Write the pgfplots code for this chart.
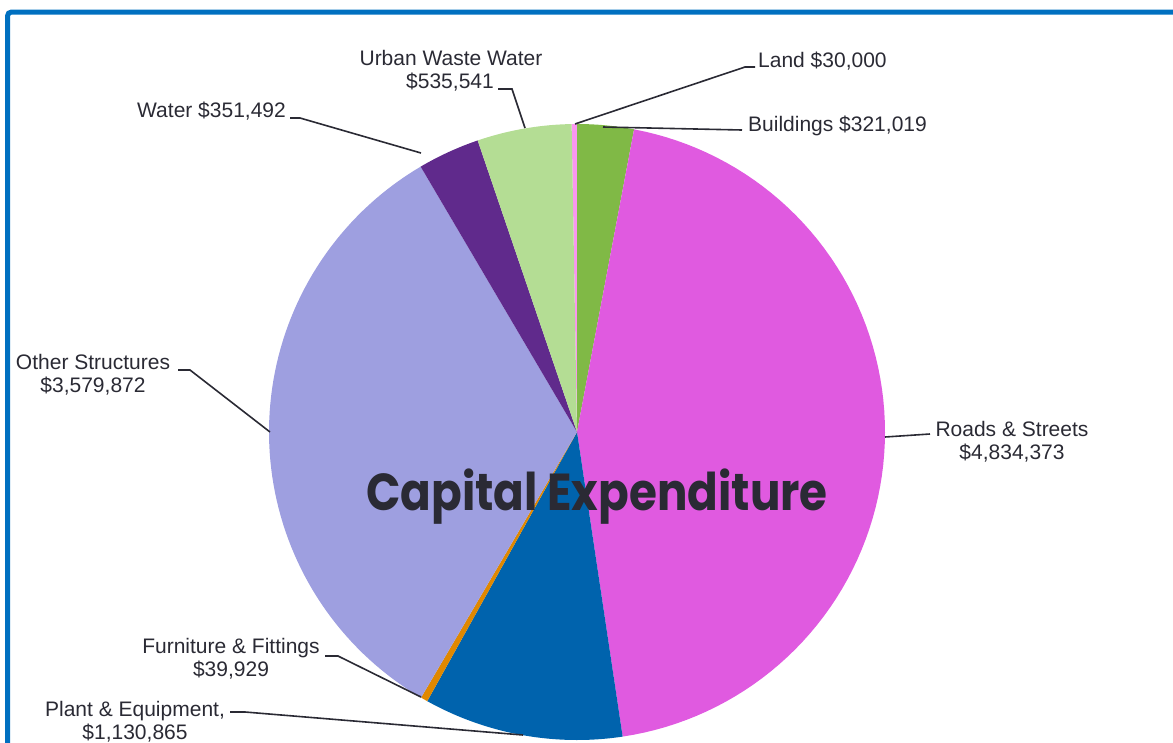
\documentclass[border=0pt]{standalone}
\usepackage{fontspec}
\setmainfont{Liberation Sans}
\newfontfamily\titlefont{Poppins}[FakeStretch=0.87]
\usepackage{pgfplots}
\usepackage{pgfplotstable}
\pgfplotsset{compat=1.18}

\definecolor{cLand}{RGB}{250,150,240}
\definecolor{cBuild}{RGB}{128,185,70}
\definecolor{cRoads}{RGB}{224,90,224}
\definecolor{cPlant}{RGB}{0,99,173}
\definecolor{cFurn}{RGB}{224,136,0}
\definecolor{cOther}{RGB}{158,159,224}
\definecolor{cWater}{RGB}{96,42,140}
\definecolor{cUrban}{RGB}{180,221,148}
\definecolor{txt}{RGB}{42,42,52}
\definecolor{frameblue}{RGB}{0,112,192}

% capital expenditure by asset class, clockwise from 12 o'clock
\pgfplotstableread{
name value
Land 30000
Buildings 321019
Roads 4834373
Plant 1130865
Furniture 39929
Other 3579872
Water 351492
Urban 535541
}\capex

% total and cumulative angles (degrees, clockwise from the start angle)
\def\startangle{91}
\edef\total{0}
\pgfplotsforeachungrouped \i in {0,...,7}{%
  \pgfplotstablegetelem{\i}{value}\of\capex
  \edef\total{\fpeval{\total+\pgfplotsretval}}}
\edef\cur{\startangle}
\expandafter\edef\csname ang0\endcsname{\startangle}
\pgfplotsforeachungrouped \i in {0,...,7}{%
  \pgfplotstablegetelem{\i}{value}\of\capex
  \edef\cur{\fpeval{\cur-360*\pgfplotsretval/\total}}%
  \pgfmathtruncatemacro\j{\i+1}%
  \expandafter\xdef\csname ang\j\endcsname{\cur}}

% pie centre and radius, in picture pixels
\def\cx{577}\def\cy{432}\def\rr{308}
\newcommand\slice[3]{%
  \addplot[fill=#1, draw=none, samples=80, variable=\t,
    domain=\csname ang#3\endcsname:\csname ang#2\endcsname]
    ({\cx+\rr*cos(\t)},{\cy-\rr*sin(\t)}) -- (\cx,\cy) -- cycle;}

\tikzset{
  lbl/.style={font=\fontsize{21}{24}\selectfont, text=txt, inner sep=0pt},
  leader/.style={draw=txt, line width=1.6pt},
}

\begin{document}
\begin{tikzpicture}
\begin{axis}[x=1pt, y=1pt, y dir=reverse,
  xmin=0, xmax=1173, ymin=0, ymax=742,
  hide axis, clip=false]
\slice{cLand}{0}{1}
\slice{cBuild}{1}{2}
\slice{cRoads}{2}{3}
\slice{cPlant}{3}{4}
\slice{cFurn}{4}{5}
\slice{cOther}{5}{6}
\slice{cWater}{6}{7}
\slice{cUrban}{7}{8}

% leader lines
\draw[leader] (498,89) -- (512,89) -- (525,128);
\draw[leader] (290,118) -- (300,118) -- (421,153);
\draw[leader] (575,124) -- (745,67) -- (755,67);
\draw[leader] (603,127) -- (742,130);
\draw[leader] (885,437) -- (930,434);
\draw[leader] (178,370) -- (190,370) -- (270,432);
\draw[leader] (325,656) -- (338,656) -- (421,697);
\draw[leader] (230,712) -- (245,712) -- (523,735);

% labels
\node[lbl, anchor=base] at (451,65) {Urban Waste Water};
\node[lbl, anchor=base] at (450,88) {\$535,541};
\node[lbl, anchor=base west] at (137,117) {Water \$351,492};
\node[lbl, anchor=base west] at (758,67) {Land \$30,000};
\node[lbl, anchor=base west] at (748,131) {Buildings \$321,019};
\node[lbl, anchor=base] at (1012,436) {Roads \& Streets};
\node[lbl, anchor=base] at (1012,459) {\$4,834,373};
\node[lbl, anchor=base] at (93,369) {Other Structures};
\node[lbl, anchor=base] at (93,392) {\$3,579,872};
\node[lbl, anchor=base] at (231,653) {Furniture \& Fittings};
\node[lbl, anchor=base] at (231,676) {\$39,929};
\node[lbl, anchor=base] at (135,716) {Plant \& Equipment,};
\node[lbl, anchor=base] at (135,739) {\$1,130,865};

% title
\node[anchor=base, inner sep=0pt, text=txt,
  font=\titlefont\bfseries\fontsize{52}{58}\selectfont] at (597,510) {Capital Expenditure};

% frame
\draw[frameblue, line width=5pt, rounded corners=4pt] (7.5,800) -- (7.5,12) -- (1240,12);
\end{axis}
\pgfresetboundingbox
\path[use as bounding box] (current axis.south west) rectangle (current axis.north east);
\end{tikzpicture}
\end{document}
